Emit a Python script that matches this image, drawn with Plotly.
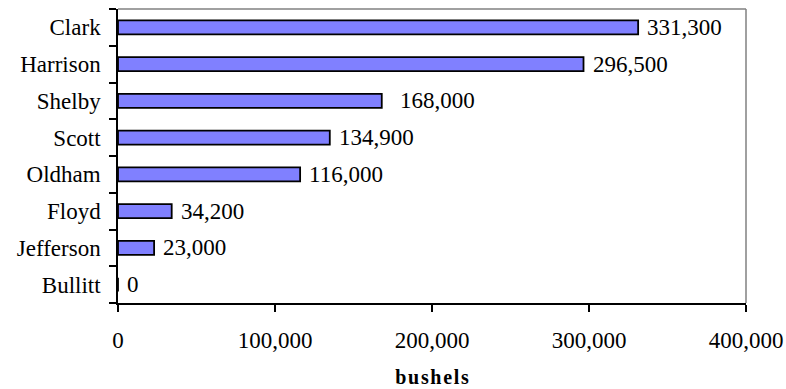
import plotly.graph_objects as go

counties = ["Clark", "Harrison", "Shelby", "Scott", "Oldham", "Floyd", "Jefferson", "Bullitt"]
bushels = [331300, 296500, 168000, 134900, 116000, 34200, 23000, 0]
label_shift = [7, 7, 16, 7, 7, 7, 7, 7]
x_ticks = [0, 100000, 200000, 300000, 400000]
x_tick_text = ["0", "100,000", "200,000", "300,000", "400,000"]

font_family = "Liberation Serif, Times New Roman, serif"
FS = 23

fig = go.Figure(
    go.Bar(
        y=counties,
        x=bushels,
        orientation="h",
        width=0.38,
        marker=dict(color="#8080FF", line=dict(color="black", width=1.8)),
    )
)

for name, val, dx in zip(counties, bushels, label_shift):
    fig.add_annotation(
        x=val, y=name, text=f"{val:,}", showarrow=False,
        xanchor="left", yanchor="middle", xshift=dx,
        font=dict(family=font_family, size=FS, color="black"),
    )

# light grey frame on the top and right edges of the plot area
fig.add_shape(type="line", xref="paper", yref="paper", x0=0, x1=1, y0=1, y1=1,
              line=dict(color="#808080", width=1.5))
fig.add_shape(type="line", xref="paper", yref="paper", x0=1, x1=1, y0=0, y1=1,
              line=dict(color="#808080", width=1.5))

# slightly letter-spaced bold axis title
title_text = "\u200a".join("bushels")

fig.update_layout(
    width=786, height=389,
    margin=dict(l=118, r=40, t=9, b=86),
    plot_bgcolor="white", paper_bgcolor="white",
    showlegend=False,
    font=dict(family=font_family, size=FS, color="black"),
)
fig.update_xaxes(
    range=[0, 400000], tickvals=x_ticks, ticktext=x_tick_text,
    showgrid=False, zeroline=False, automargin=False,
    showline=True, linecolor="black", linewidth=1.5,
    ticks="outside", ticklen=7, tickcolor="black", tickwidth=1.5,
    ticklabelstandoff=9,
    title=dict(text=f"<b>{title_text}</b>", font=dict(family=font_family, size=20), standoff=18),
)
fig.update_yaxes(
    categoryorder="array", categoryarray=counties[::-1],
    showgrid=False, zeroline=False, automargin=False,
    showline=True, linecolor="black", linewidth=1.5,
    ticks="outside", ticklen=7, tickcolor="black", tickwidth=1.5,
    tickson="boundaries", ticklabelstandoff=11,
)

fig.write_html("out.html")
